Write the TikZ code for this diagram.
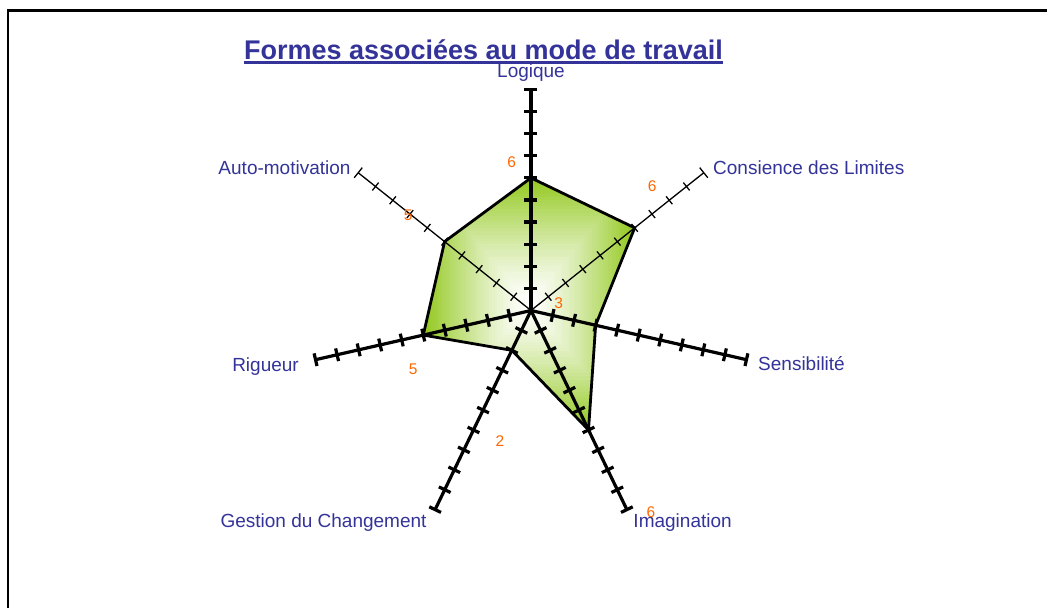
\documentclass[tikz,border=0pt]{standalone}
\usepackage{fontspec}
\setmainfont{Liberation Sans}
\definecolor{labelblue}{RGB}{51,51,153}
\definecolor{valorange}{RGB}{255,102,0}
\definecolor{glowgreen}{RGB}{146,200,30}
\tikzset{
  catlabel/.style={text=labelblue,font=\fontsize{19}{22}\selectfont,inner sep=0pt},
  vallabel/.style={text=valorange,font=\fontsize{15.5}{18}\selectfont,inner sep=0pt},
}
\begin{document}
\begin{tikzpicture}[x=1pt,y=1pt]
        \useasboundingbox (-531,-297.5) rectangle (516,310.5);
        \draw[line width=2.3pt] (-523,-297.5) -- (-523,300) -- (516,300);
        % values on the axes (22.1 per unit)
        \coordinate (o) at (0,0);
        \coordinate (pL) at (90:132.6);
        \coordinate (pC) at (38.57:132.6);
        \coordinate (pS) at (-12.86:66.3);
        \coordinate (pI) at (-64.29:132.6);
        \coordinate (pG) at (-115.71:44.2);
        \coordinate (pR) at (-167.14:110.5);
        \coordinate (pA) at (141.43:110.5);
        \begin{scope}
            \clip (pL)--(pC)--(pS)--(pI)--(pG)--(pR)--(pA)--cycle;
            \foreach \k in {40,39,...,1} {
                \pgfmathtruncatemacro\p{100*(\k/40)^1.3}
                \fill[glowgreen!\p!white] ({-2.05-\k*2.64},{6.6-\k*3.15}) rectangle ({-2.05+\k*2.64},{6.6+\k*3.15});
            }
        \end{scope}
        \draw[line width=2.8pt,line join=miter] (pL)--(pC)--(pS)--(pI)--(pG)--(pR)--(pA)--cycle;
        \foreach \a/\w/\t in {90/3.2pt/6.5,38.57/1.3pt/5,-12.86/3.2pt/6.5,-64.29/3.2pt/6.5,-115.71/3.2pt/6.5,-167.14/3.2pt/6.5,141.43/1.3pt/5} {
            \begin{scope}[rotate=\a,line width=\w]
                \draw (o) -- (221,0);
                \foreach \k in {1,...,9} \draw (\k*22.1,-\t) -- (\k*22.1,\t);
                \draw (221,-6.5) -- (221,6.5);
            \end{scope}
        }
        \node[text=labelblue,font=\bfseries\fontsize{27}{32}\selectfont,inner sep=0pt,anchor=base](title)at(-47.5,250.5){Formes associées au mode de travail};
        \draw[labelblue,line width=3pt] ([yshift=-2.5pt]title.base west) -- ([yshift=-2.5pt]title.base east);
        \node[catlabel,anchor=base](logique)at(0,232.5){Logique};
        \node[catlabel,anchor=base west](limites)at(182,135.5){Consience des Limites};
        \node[catlabel,anchor=base west](sensib)at(227,-59.5){Sensibilité};
        \node[catlabel,anchor=base west](imagin)at(102.3,-217.2){Imagination};
        \node[catlabel,anchor=base east](gestion)at(-104.3,-217.2){Gestion du Changement};
        \node[catlabel,anchor=base east](rigueur)at(-232,-60.5){Rigueur};
        \node[catlabel,anchor=base east](automot)at(-180.3,135.5){Auto-motivation};
        \node[vallabel](vL)at(-19.3,148.8){6};
        \node[vallabel](vC)at(121.3,124.8){6};
        \node[vallabel](vA)at(-122.7,94.8){5};
        \node[vallabel](vS)at(27.7,7.8){3};
        \node[vallabel](vR)at(-117.7,-58.5){5};
        \node[vallabel](vG)at(-31,-130.2){2};
        \node[vallabel](vI)at(120,-201.8){6};
    \end{tikzpicture}
\end{document}
